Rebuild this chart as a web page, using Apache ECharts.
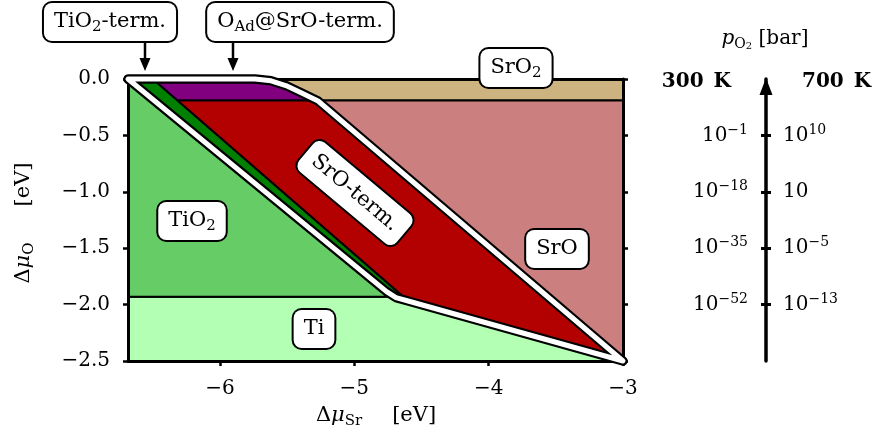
<!DOCTYPE html>
<html>
<head>
<meta charset="utf-8">
<script src="https://cdn.jsdelivr.net/npm/echarts@6/dist/echarts.min.js"></script>
<style>
  html, body { margin: 0; padding: 0; background: #fff; }
  #chart { width: 874px; height: 441px; }
</style>
</head>
<body>
<div id="chart"></div>
<script>
// Chemical potential ranges (eV)
const muSrRange = [-6.685, -3];
const muORange = [-2.5, 0];
const muSrTicks = [-6, -5, -4, -3];

// O2 partial pressure marks: Δμ_O level and exponent of 10 at each temperature
const pressureLevels = [-0.5, -1.0, -1.5, -2.0];
const exp300K = [-1, -18, -35, -52];
const exp700K = [10, 1, -5, -13];

// Bulk phase regions, vertices as [Δμ_Sr, Δμ_O]
const phaseTi = [[-6.685, -2.5], [-6.685, -1.93], [-4.715, -1.93], [-3, -2.5]];
const phaseTiO2 = [[-6.685, 0], [-4.715, -1.93], [-6.685, -1.93]];
const phaseSrO2 = [[-5.74, 0], [-3, 0], [-3, -0.19], [-5.27, -0.19]];
const phaseSrO = [[-5.27, -0.19], [-3, -0.19], [-3, -2.5]];

// Stable surface terminations
const termTiO2 = [[-6.685, 0], [-6.50, 0], [-4.60, -1.965], [-4.715, -1.93]];
const termOAd = [[-6.50, 0], [-5.74, 0], [-5.63, -0.014], [-5.52, -0.055], [-5.41, -0.115], [-5.29, -0.19], [-6.316, -0.19]];
const termSrO = [[-6.316, -0.19], [-5.27, -0.19], [-3, -2.5], [-4.60, -1.965]];

// Boundary of the stable-surface window
const stableOutline = [[-6.685, 0], [-5.74, 0], [-5.62, -0.016], [-5.51, -0.058], [-5.40, -0.12], [-5.27, -0.195],
  [-3, -2.5], [-4.60, -1.968], [-4.69, -1.938], [-4.76, -1.885]];

const FONT = 'DejaVu Serif';

function richSet(size, gap) {
  const small = Math.round(size * 0.7);
  const lh = size + 5;
  const tok = Math.round(size * 0.55);
  return {
    n: { fontFamily: FONT, fontSize: size, lineHeight: lh, color: '#000' },
    it: { fontFamily: FONT, fontSize: size, fontStyle: 'italic', lineHeight: lh, color: '#000' },
    b: { fontFamily: FONT, fontSize: size, fontWeight: 'bold', lineHeight: lh, color: '#000' },
    sub: { fontFamily: FONT, fontSize: small, lineHeight: tok, verticalAlign: 'bottom', color: '#000' },
    sup: { fontFamily: FONT, fontSize: small, lineHeight: tok, verticalAlign: 'top', color: '#000' },
    ss: { fontFamily: FONT, fontSize: Math.round(size * 0.5), lineHeight: Math.round(size * 0.25), verticalAlign: 'bottom', color: '#000' },
    gap: { fontFamily: FONT, fontSize: size, lineHeight: lh, width: gap || 26 }
  };
}

function regionSeries(name, pts, fill, z) {
  return {
    type: 'custom',
    name: name,
    coordinateSystem: 'cartesian2d',
    xAxisIndex: 0,
    yAxisIndex: 0,
    z: z,
    silent: true,
    data: pts,
    encode: { x: 0, y: 1 },
    renderItem: function (params, api) {
      if (params.dataIndex !== 0) return null;
      const points = pts.map(function (p) { return api.coord(p); });
      return {
        type: 'polygon',
        shape: { points: points },
        style: { fill: fill, stroke: '#000', lineWidth: 2, lineJoin: 'round' }
      };
    }
  };
}

const outlineSeries = {
  type: 'custom',
  name: 'stable window',
  coordinateSystem: 'cartesian2d',
  z: 6,
  silent: true,
  data: stableOutline,
  encode: { x: 0, y: 1 },
  renderItem: function (params, api) {
    if (params.dataIndex !== 0) return null;
    const points = stableOutline.map(function (p) { return api.coord(p); });
    return {
      type: 'group',
      children: [
        { type: 'polygon', shape: { points: points }, style: { fill: 'none', stroke: '#000', lineWidth: 9.5, lineJoin: 'round' } },
        { type: 'polygon', shape: { points: points }, style: { fill: 'none', stroke: '#fff', lineWidth: 5, lineJoin: 'round' } }
      ]
    };
  }
};

function minusFmt(s) { return s.replace('-', '\u2212'); }

function powLabel(e) {
  if (e === 1) return '{n|10}';
  return '{n|10}{sup|' + minusFmt(String(e)) + '}';
}
function levelIndex(v) {
  return pressureLevels.findIndex(function (l) { return Math.abs(l - v) < 1e-6; });
}

function boxLabel(text, x, y, rot) {
  return {
    type: 'text', x: x, y: y, rotation: rot || 0, z: 100,
    style: {
      text: text, rich: richSet(21), align: 'center', verticalAlign: 'middle',
      backgroundColor: '#fff', borderColor: '#000', borderWidth: 2, borderRadius: 8,
      padding: [6, 10]
    }
  };
}
function downArrow(x, y0, y1) {
  return [
    { type: 'line', z: 100, shape: { x1: x, y1: y0, x2: x, y2: y1 - 10 }, style: { stroke: '#000', lineWidth: 2.5 } },
    { type: 'polygon', z: 100, shape: { points: [[x - 5.5, y1 - 13], [x + 5.5, y1 - 13], [x, y1]] }, style: { fill: '#000' } }
  ];
}

const axisLineStyle = { color: '#000', width: 3 };
const tickStyle = { color: '#000', width: 2.5 };
const labelBase = { fontFamily: FONT, fontSize: 20, color: '#000' };

const option = {
  animation: false,
  backgroundColor: '#fff',
  grid: { left: 128, right: 251, top: 79, bottom: 80, outerBoundsMode: 'none', containLabel: false },
  xAxis: [
    {
      type: 'value', min: muSrRange[0], max: muSrRange[1], position: 'bottom', z: 4,
      axisLine: { show: true, onZero: false, lineStyle: axisLineStyle },
      axisTick: { show: true, inside: false, length: 5, lineStyle: tickStyle, customValues: muSrTicks },
      axisLabel: Object.assign({ customValues: muSrTicks, margin: 18,
        formatter: function (v) { return minusFmt(String(v)); } }, labelBase),
      splitLine: { show: false }
    },
    {
      type: 'value', min: muSrRange[0], max: muSrRange[1], position: 'top', z: 4,
      axisLine: { show: true, onZero: false, lineStyle: axisLineStyle },
      axisTick: { show: false }, axisLabel: { show: false }, splitLine: { show: false }
    }
  ],
  yAxis: [
    {
      type: 'value', min: muORange[0], max: muORange[1], interval: 0.5, position: 'left', z: 4,
      axisLine: { show: true, onZero: false, lineStyle: axisLineStyle },
      axisTick: { show: true, inside: false, length: 5, lineStyle: tickStyle },
      axisLabel: Object.assign({ margin: 18,
        formatter: function (v) { return minusFmt(v.toFixed(1)).replace('\u22120.0', '0.0'); } }, labelBase),
      splitLine: { show: false }
    },
    {
      type: 'value', min: muORange[0], max: muORange[1], interval: 0.5, position: 'right', offset: 0, z: 4,
      axisLine: { show: true, onZero: false, lineStyle: axisLineStyle },
      axisTick: { show: true, inside: false, length: 5, lineStyle: tickStyle },
      axisLabel: { show: false }, splitLine: { show: false }
    },
    {
      // pressure scale at 300 K (left side of the arrow)
      type: 'value', min: muORange[0], max: muORange[1], interval: 0.5, position: 'right', offset: 143,
      axisLine: { show: true, onZero: false, symbol: ['none', 'triangle'], symbolSize: [13, 17], symbolOffset: [0, -7.5],
        lineStyle: { color: '#000', width: 3.5 } },
      axisTick: { show: true, inside: true, length: 5, lineStyle: { color: '#000', width: 3 }, customValues: pressureLevels },
      axisLabel: { show: true, inside: true, margin: 18, customValues: pressureLevels, rich: richSet(20),
        formatter: function (v) { const i = levelIndex(v); return i < 0 ? '' : powLabel(exp300K[i]); } },
      splitLine: { show: false }
    },
    {
      // pressure scale at 700 K (right side of the arrow)
      type: 'value', min: muORange[0], max: muORange[1], interval: 0.5, position: 'right', offset: 143,
      axisLine: { show: false, onZero: false },
      axisTick: { show: true, inside: false, length: 5, lineStyle: { color: '#000', width: 3 }, customValues: pressureLevels },
      axisLabel: { show: true, inside: false, margin: 17, customValues: pressureLevels, rich: richSet(20),
        formatter: function (v) { const i = levelIndex(v); return i < 0 ? '' : powLabel(exp700K[i]); } },
      splitLine: { show: false }
    }
  ],
  series: [
    regionSeries('Ti', phaseTi, '#b3ffb3', 2),
    regionSeries('TiO2', phaseTiO2, '#66cc66', 2),
    regionSeries('SrO2', phaseSrO2, '#ccb380', 2),
    regionSeries('SrO', phaseSrO, '#cc7f7f', 2),
    regionSeries('TiO2-term.', termTiO2, '#008000', 3),
    regionSeries('OAd@SrO-term.', termOAd, '#800080', 3),
    regionSeries('SrO-term.', termSrO, '#b30000', 3),
    outlineSeries
  ],
  graphic: [
    boxLabel('{n|TiO}{sub|2}{n|-term.}', 110, 22),
    boxLabel('{n|O}{sub|Ad}{n|@SrO-term.}', 300, 22),
    boxLabel('{n|SrO}{sub|2}', 516, 68),
    boxLabel('{n|TiO}{sub|2}', 192, 221),
    boxLabel('{n|Ti}', 314, 329),
    boxLabel('{n|SrO}', 557, 249),
    boxLabel('{n|SrO-term.}', 355, 193, -40 * Math.PI / 180)
  ].concat(downArrow(145, 41, 71), downArrow(233, 41, 71), [
    { type: 'text', x: 24, y: 223, rotation: Math.PI / 2, z: 100,
      style: { text: '{n|\u0394}{it|\u03bc}{sub|O}{gap| }{n|[eV]}', rich: richSet(21, 36), align: 'center', verticalAlign: 'middle' } },
    { type: 'text', x: 376, y: 416, z: 100,
      style: { text: '{n|\u0394}{it|\u03bc}{sub|Sr}{gap| }{n|[eV]}', rich: richSet(21, 30), align: 'center', verticalAlign: 'middle' } },
    { type: 'text', x: 765, y: 39, z: 100,
      style: { text: '{it|p}{sub|O}{ss|2}{n| [bar]}', rich: richSet(20), align: 'center', verticalAlign: 'middle' } },
    { type: 'text', x: 731, y: 82, z: 100,
      style: { text: '{b|300\u2002K}', rich: richSet(20), align: 'right', verticalAlign: 'middle' } },
    { type: 'text', x: 802, y: 82, z: 100,
      style: { text: '{b|700\u2002K}', rich: richSet(20), align: 'left', verticalAlign: 'middle' } }
  ])
};

const chart = echarts.init(document.getElementById('chart'), null, { renderer: 'canvas' });
chart.setOption(option);
</script>
</body>
</html>
